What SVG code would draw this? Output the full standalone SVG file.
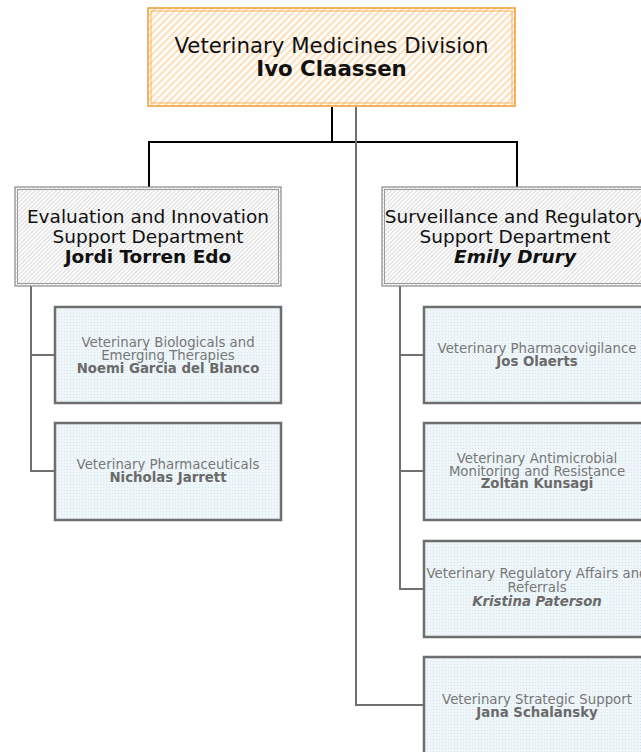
<svg xmlns="http://www.w3.org/2000/svg" width="641" height="752" viewBox="0 0 641 752">
<defs>
<pattern id="pOrange" width="5" height="5" patternUnits="userSpaceOnUse" patternTransform="rotate(45)">
<rect width="5" height="5" fill="#ffffff"/><rect width="2.2" height="5" fill="#fde0bb"/>
</pattern>
<pattern id="pGray" width="3" height="3" patternUnits="userSpaceOnUse" patternTransform="rotate(45)">
<rect width="3" height="3" fill="#ffffff"/><rect width="1.2" height="3" fill="#dcdcdc"/>
</pattern>
<pattern id="pDots" width="3" height="3" patternUnits="userSpaceOnUse">
<rect width="3" height="3" fill="#eef6f9"/><rect x="1" y="1" width="1" height="1" fill="#d6e6ee"/>
</pattern>
</defs>
<style>
text{font-family:Verdana,"DejaVu Sans",sans-serif;text-anchor:middle}
.top{font-size:21.3px;fill:#111}
.dept{font-size:18.5px;fill:#111}
.unit{font-size:13.3px;fill:#777}
.b{font-weight:bold}
.i{font-style:italic}
.ub{font-weight:bold;fill:#6a6a6a}
.conn{fill:none;stroke-width:2}
.k{stroke:#000}
.g{stroke:#707070}
.box-top{fill:url(#pOrange)}
.box-top-o{fill:none;stroke:#f19b2c;stroke-width:1.5}
.box-top-i{fill:none;stroke:#f5b45a;stroke-width:1}
.box-dept{fill:url(#pGray)}
.box-dept-o{fill:none;stroke:#8a8a8a;stroke-width:1.2}
.box-dept-i{fill:none;stroke:#9a9a9a;stroke-width:1}
.box-unit{fill:url(#pDots);stroke:#6e6e6e;stroke-width:2.5}
</style>
<g id="connectors">
<path class="conn k" d="M332 107V142M149 142H517M149 141V187M517 141V187"/>
<path class="conn g" d="M356 107V705H424"/>
<path class="conn g" d="M31 286V471H55M31 355H55"/>
<path class="conn g" d="M400 286V589H424M400 355H424M400 471H424"/>
</g>
<g id="division">
<rect class="box-top" x="148" y="8" width="367" height="98"/>
<rect class="box-top-o" x="148" y="8" width="367" height="98"/>
<rect class="box-top-i" x="151" y="11" width="361" height="92"/>
<text class="top" x="331.5" y="53">Veterinary Medicines Division</text>
<text class="top b" x="331.5" y="76">Ivo Claassen</text>
</g>
<g id="dept-eval">
<rect class="box-dept" x="15" y="187" width="266" height="99"/>
<rect class="box-dept-o" x="15" y="187" width="266" height="99"/>
<rect class="box-dept-i" x="17.5" y="189.5" width="261" height="94"/>
<text class="dept" x="148" y="223">Evaluation and Innovation</text>
<text class="dept" x="148" y="243">Support Department</text>
<text class="dept b" x="148" y="263">Jordi Torren Edo</text>
</g>
<g id="dept-surv">
<rect class="box-dept" x="382" y="187" width="266" height="99"/>
<rect class="box-dept-o" x="382" y="187" width="266" height="99"/>
<rect class="box-dept-i" x="384.5" y="189.5" width="261" height="94"/>
<text class="dept" x="515" y="223">Surveillance and Regulatory</text>
<text class="dept" x="515" y="243">Support Department</text>
<text class="dept b i" x="515" y="263">Emily Drury</text>
</g>
<g id="unit-bio">
<rect class="box-unit" x="55" y="307" width="226" height="96"/>
<text class="unit" x="168" y="347">Veterinary Biologicals and</text>
<text class="unit" x="168" y="359.5">Emerging Therapies</text>
<text class="unit ub" x="168" y="372.5">Noemi Garcia del Blanco</text>
</g>
<g id="unit-pharm">
<rect class="box-unit" x="55" y="423" width="226" height="97"/>
<text class="unit" x="168" y="468.5">Veterinary Pharmaceuticals</text>
<text class="unit ub" x="168" y="481.5">Nicholas Jarrett</text>
</g>
<g id="unit-pv">
<rect class="box-unit" x="424" y="307" width="226" height="96"/>
<text class="unit" x="537" y="352.5">Veterinary Pharmacovigilance</text>
<text class="unit ub" x="537" y="365.5">Jos Olaerts</text>
</g>
<g id="unit-amr">
<rect class="box-unit" x="424" y="423" width="226" height="97"/>
<text class="unit" x="537" y="463">Veterinary Antimicrobial</text>
<text class="unit" x="537" y="475.5">Monitoring and Resistance</text>
<text class="unit ub" x="537" y="488">Zoltan Kunsagi</text>
</g>
<g id="unit-reg">
<rect class="box-unit" x="424" y="541" width="226" height="96"/>
<text class="unit" x="537" y="578">Veterinary Regulatory Affairs and</text>
<text class="unit" x="537" y="591.5">Referrals</text>
<text class="unit ub i" x="537" y="606">Kristina Paterson</text>
</g>
<g id="unit-strat">
<rect class="box-unit" x="424" y="657" width="226" height="110"/>
<text class="unit" x="537" y="704">Veterinary Strategic Support</text>
<text class="unit ub" x="537" y="716.5">Jana Schalansky</text>
</g>
</svg>
